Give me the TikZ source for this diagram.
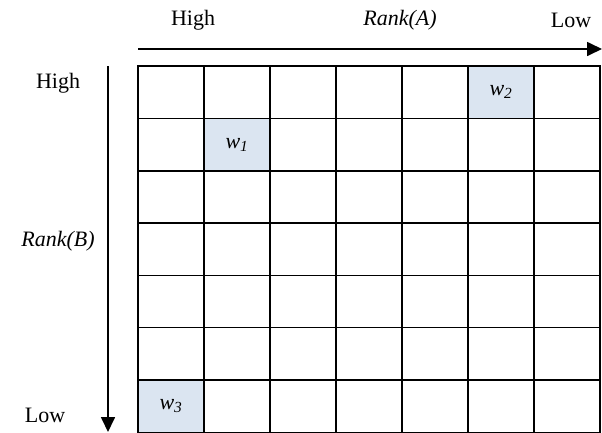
\documentclass[tikz,border=0pt]{standalone}
\usepackage{fontspec}
\setmainfont{Liberation Serif}
\usetikzlibrary{arrows.meta}
\definecolor{cellblue}{RGB}{219,229,241}
\tikzset{
  cell/.style={draw, line width=1.5pt, minimum width=66pt, minimum height=52.3pt, inner sep=0pt},
  rankarrow/.style={line width=1.7pt, -{Triangle[length=15pt, width=14pt]}}
}
\begin{document}
\begin{tikzpicture}[x=1pt, y=-1pt, every node/.style={font=\fontsize{22}{26}\selectfont}]
  \useasboundingbox (0,0) rectangle (602,432);
  % grid of cells
  \foreach \r in {1,...,7} {
    \foreach \c in {1,...,7} {
      \node[cell] (c\r\c) at (105+66*\c, 40+52.3*\r) {};
    }
  }
  \node[cell, fill=cellblue] (w2) at (c16) {\textit{w\textsubscript{2}}};
  \node[cell, fill=cellblue] (w1) at (c22) {\textit{w\textsubscript{1}}};
  \node[cell, fill=cellblue] (w3) at (c71) {\textit{w\textsubscript{3}}};
  % axis labels
  \node (tophigh) at (193,20) {High};
  \node (ranka) at (400,20) {\textit{Rank(A)}};
  \node (toplow) at (571,20) {Low};
  \node (lefthigh) at (58,83) {High};
  \node (rankb) at (58,241) {\textit{Rank(B)}};
  \node (leftlow) at (45,415) {Low};
  % arrows
  \coordinate (astart) at (138,49);
  \coordinate (aend) at (602,49);
  \coordinate (bstart) at (108,66);
  \coordinate (bend) at (108,432);
  \draw[rankarrow] (astart) -- (aend);
  \draw[rankarrow] (bstart) -- (bend);
\end{tikzpicture}
\end{document}
